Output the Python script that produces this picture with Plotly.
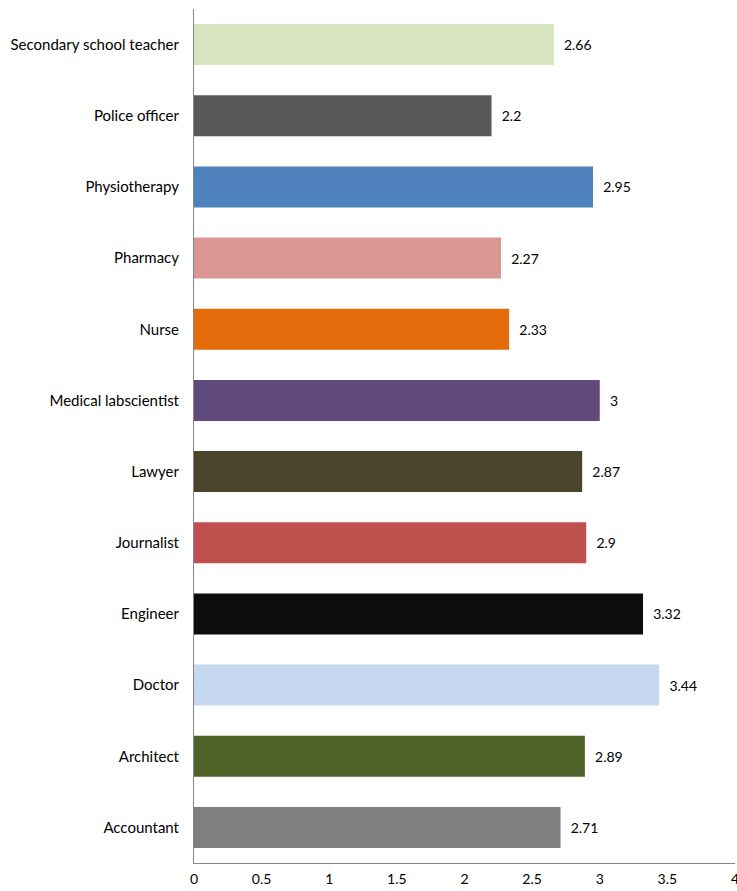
import plotly.graph_objects as go

categories = ["Accountant", "Architect", "Doctor", "Engineer", "Journalist", "Lawyer",
              "Medical labscientist", "Nurse", "Pharmacy", "Physiotherapy",
              "Police officer", "Secondary school teacher"]
values = [2.71, 2.89, 3.44, 3.32, 2.9, 2.87, 3, 2.33, 2.27, 2.95, 2.2, 2.66]
colors = ["#7F7F7F", "#4F6228", "#C6D9F1", "#0D0D0D", "#C0504D", "#4A452A",
          "#604A7B", "#E46C0A", "#D99694", "#4F81BD", "#595959", "#D7E4BD"]
tick_vals = [0, 0.5, 1, 1.5, 2, 2.5, 3, 3.5, 4]
tick_text = ["0", "0.5", "1", "1.5", "2", "2.5", "3", "3.5", "4"]

fig = go.Figure(go.Bar(
    y=categories, x=values, orientation="h",
    marker=dict(color=colors, line=dict(width=0)),
    text=[f"  {v:g}" for v in values], textposition="outside",
    textfont=dict(color="#000000", size=14, family="Lato"),
    cliponaxis=False,
))
fig.update_layout(
    width=737, height=891,
    margin=dict(l=194, r=2, t=9, b=28),
    plot_bgcolor="white", paper_bgcolor="white",
    bargap=0.424, showlegend=False,
    font=dict(family="Lato", size=15, color="#000000"),
)
fig.update_xaxes(range=[0, 4], tickvals=tick_vals, ticktext=tick_text,
                 showgrid=False, zeroline=False, showline=True, automargin=False,
                 linecolor="#868686", linewidth=1, ticks="", ticklen=0,
                 tickfont=dict(size=14), ticklabeloverflow="allow",
                 ticklabelstandoff=3)
fig.update_yaxes(categoryorder="array", categoryarray=categories, automargin=False,
                 showgrid=False, zeroline=False, showline=True,
                 linecolor="#868686", linewidth=1, ticks="", ticklabelstandoff=11)
fig.write_html("out.html", config={"displayModeBar": False},
               post_script="document.body.style.margin='0';document.body.style.overflow='hidden';")
